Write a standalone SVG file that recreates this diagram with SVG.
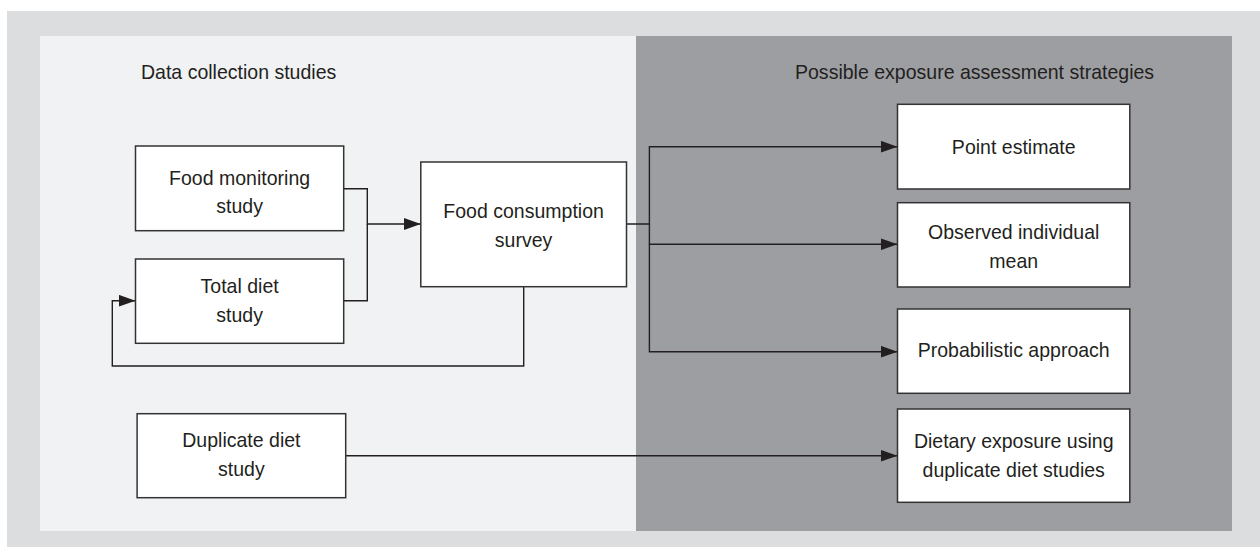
<svg xmlns="http://www.w3.org/2000/svg" width="1260" height="547" viewBox="0 0 1260 547">
<defs>
<marker id="arr" markerUnits="userSpaceOnUse" markerWidth="18" markerHeight="12" refX="17" refY="6" orient="auto">
<path d="M0,0 L17,6 L0,12 z" fill="#231f20"/>
</marker>
<style>
.box{fill:#ffffff;stroke:#333333;stroke-width:1.5}
.t{font-family:"Liberation Sans",Arial,sans-serif;font-size:21px;fill:#231f20;text-anchor:middle}
.h{font-family:"Liberation Sans",Arial,sans-serif;font-size:21px;fill:#231f20}
.c{fill:none;stroke:#231f20;stroke-width:1.4}
</style>
</defs>
<rect x="7" y="11" width="1253" height="536" fill="#dcdddf"/>
<rect x="40" y="36" width="596" height="495" fill="#f1f2f3"/>
<rect x="636" y="36" width="596" height="495" fill="#9d9ea2"/>
<text class="h" transform="translate(141 0) scale(0.93 1)" x="0" y="79">Data collection studies</text>
<text class="h" transform="translate(795 0) scale(0.93 1)" x="0" y="79">Possible exposure assessment strategies</text>

<g id="connectors">
<path class="c" d="M343.7,188.7 H367.3 V224 H420.8" marker-end="url(#arr)"/>
<path class="c" d="M343.7,300.7 H367.3 V224"/>
<path class="c" d="M523.7,286.7 V366 H112.3 V300.7 H135.5" marker-end="url(#arr)"/>
<path class="c" d="M626.5,224 H649.4 V146.7 H897.5" marker-end="url(#arr)"/>
<path class="c" d="M649.4,224 V244.3 H897.5" marker-end="url(#arr)"/>
<path class="c" d="M649.4,244.3 V351.7 H897.5" marker-end="url(#arr)"/>
<path class="c" d="M345.7,455.8 H897.5" marker-end="url(#arr)"/>
</g>

<g id="food-monitoring">
<rect class="box" x="135.5" y="146" width="208.2" height="84.7"/>
<g transform="translate(239.6 0) scale(0.93 1)">
<text class="t" x="0" y="185">Food monitoring</text>
<text class="t" x="0" y="213">study</text>
</g>
</g>
<g id="total-diet">
<rect class="box" x="135.5" y="259" width="208.2" height="84.3"/>
<g transform="translate(239.6 0) scale(0.93 1)">
<text class="t" x="0" y="293.3">Total diet</text>
<text class="t" x="0" y="322.5">study</text>
</g>
</g>
<g id="duplicate-diet">
<rect class="box" x="137.1" y="413.7" width="208.6" height="84"/>
<g transform="translate(241.4 0) scale(0.93 1)">
<text class="t" x="0" y="447.3">Duplicate diet</text>
<text class="t" x="0" y="476.5">study</text>
</g>
</g>
<g id="food-consumption">
<rect class="box" x="420.8" y="162" width="205.7" height="124.7"/>
<g transform="translate(523.6 0) scale(0.93 1)">
<text class="t" x="0" y="217.7">Food consumption</text>
<text class="t" x="0" y="246.7">survey</text>
</g>
</g>
<g id="point-estimate">
<rect class="box" x="897.5" y="104.3" width="232.3" height="84.7"/>
<g transform="translate(1013.7 0) scale(0.93 1)">
<text class="t" x="0" y="154">Point estimate</text>
</g>
</g>
<g id="observed-mean">
<rect class="box" x="897.5" y="202.7" width="232.3" height="84.3"/>
<g transform="translate(1013.7 0) scale(0.93 1)">
<text class="t" x="0" y="239.3">Observed individual</text>
<text class="t" x="0" y="268.3">mean</text>
</g>
</g>
<g id="probabilistic">
<rect class="box" x="897.5" y="309" width="232.3" height="84.3"/>
<g transform="translate(1013.7 0) scale(0.93 1)">
<text class="t" x="0" y="357.3">Probabilistic approach</text>
</g>
</g>
<g id="dietary-exposure">
<rect class="box" x="897.5" y="409" width="232.3" height="93.3"/>
<g transform="translate(1013.7 0) scale(0.93 1)">
<text class="t" x="0" y="448.3">Dietary exposure using</text>
<text class="t" x="0" y="476.7">duplicate diet studies</text>
</g>
</g>
</svg>
